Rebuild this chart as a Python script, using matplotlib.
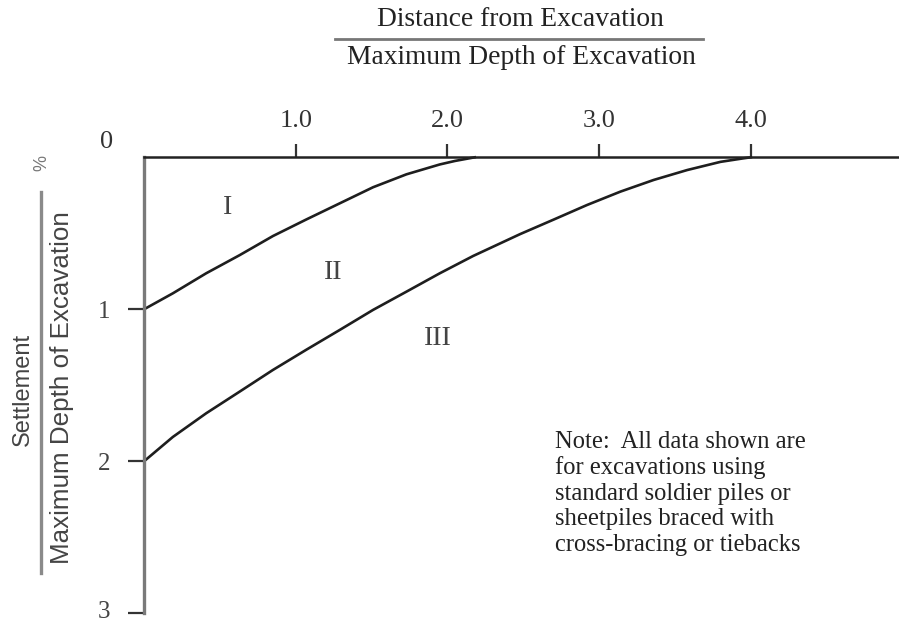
import matplotlib
matplotlib.use("Agg")
import matplotlib.pyplot as plt
from matplotlib.lines import Line2D
from matplotlib.transforms import ScaledTranslation

# ---- data ----
x_ticks = [1.0, 2.0, 3.0, 4.0]
x_tick_labels = ["1.0", "2.0", "3.0", "4.0"]
y_ticks = [1, 2, 3]
y_tick_labels = ["1", "2", "3"]

# boundary between zones I and II
curve1_x = [0.0, 0.19, 0.41, 0.63, 0.85, 1.07, 1.29, 1.51, 1.73, 1.95, 2.05, 2.18]
curve1_y = [1.0, 0.895, 0.763, 0.644, 0.518, 0.409, 0.303, 0.197, 0.112, 0.047, 0.024, 0.0]

# boundary between zones II and III
curve2_x = [0.0, 0.19, 0.41, 0.63, 0.85, 1.07, 1.29, 1.51, 1.73, 1.95, 2.17, 2.48,
            2.70, 2.92, 3.14, 3.36, 3.58, 3.80, 3.95, 4.0]
curve2_y = [2.0, 1.84, 1.684, 1.542, 1.399, 1.266, 1.136, 1.004, 0.884, 0.763, 0.649, 0.505,
            0.41, 0.314, 0.226, 0.149, 0.084, 0.030, 0.007, 0.0]

zone_labels = ["I", "II", "III"]
zone_x = [0.55, 1.25, 1.94]
zone_y = [0.33, 0.76, 1.19]

note_text = ("Note:  All data shown are\n"
             "for excavations using\n"
             "standard soldier piles or\n"
             "sheetpiles braced with\n"
             "cross-bracing or tiebacks")

W, H = 899, 621
SERIF = ["Liberation Serif", "DejaVu Serif"]
SANS = ["Liberation Sans", "DejaVu Sans"]

fig = plt.figure(figsize=(W / 100, H / 100), dpi=100)


def fx(px):
    return px / W


def fy(py):
    return 1 - py / H


ax_left, ax_right = 144, 899
ax_top, ax_bottom = 157.3, 613.3
ax = fig.add_axes([fx(ax_left), fy(ax_bottom), (ax_right - ax_left) / W, (ax_bottom - ax_top) / H])
ax.set_xlim(0, (ax_right - ax_left) / 151.7)
ax.set_ylim(3, 0)

for s in ["right", "bottom"]:
    ax.spines[s].set_visible(False)
ax.spines["top"].set_color("#222222")
ax.spines["top"].set_linewidth(1.8)
ax.spines["left"].set_color("#7a7a7a")
ax.spines["left"].set_linewidth(2.4)

ax.xaxis.tick_top()
ax.set_xticks(x_ticks)
ax.set_xticklabels(x_tick_labels, fontfamily=SERIF, fontsize=19, color="#333333")
ax.tick_params(axis="x", direction="out", length=9.5, width=1.6, color="#333333", pad=9)

ax.set_yticks(y_ticks)
ax.set_yticklabels(y_tick_labels, fontfamily=SERIF, fontsize=18, color="#444444")
ax.tick_params(axis="y", direction="out", length=11.5, width=1.6, color="#333333", pad=13)
last = ax.get_yticklabels()[-1]
last.set_transform(last.get_transform() + ScaledTranslation(0, 3 / 72, fig.dpi_scale_trans))

ax.annotate("0", xy=(0, 0), xytext=(-27, 11), textcoords="offset points",
            ha="center", va="center", fontfamily=SERIF, fontsize=19, color="#333333",
            annotation_clip=False)

ax.plot(curve1_x, curve1_y, color="#1e1e1e", lw=1.9, clip_on=False)
ax.plot(curve2_x, curve2_y, color="#1e1e1e", lw=1.9, clip_on=False)

for lab, x, y in zip(zone_labels, zone_x, zone_y):
    ax.text(x, y, lab, ha="center", va="center", fontfamily=SERIF, fontsize=20, color="#444444")

ax.text(2.71, 1.80, note_text, ha="left", va="top", fontfamily=SERIF, fontsize=17.7,
        color="#222222", linespacing=1.2)

# top label (fraction)
fig.text(fx(520), fy(20), "Distance from Excavation", ha="center", va="center",
         fontfamily=SERIF, fontsize=19.8, color="#222222")
fig.add_artist(Line2D([fx(335), fx(703)], [fy(39), fy(39)], color="#777777", lw=2.0))
fig.text(fx(521), fy(58), "Maximum Depth of Excavation", ha="center", va="center",
         fontfamily=SERIF, fontsize=19.8, color="#222222")

# left label (fraction)
fig.text(fx(23), fy(389), "Settlement", ha="center", va="center", rotation=90,
         fontfamily=SANS, fontsize=17, color="#444444")
fig.add_artist(Line2D([fx(41), fx(41)], [fy(192), fy(573)], color="#8a8a8a", lw=2.4))
fig.text(fx(62), fy(388), "Maximum Depth of Excavation", ha="center", va="center", rotation=90,
         fontfamily=SANS, fontsize=18.7, color="#444444")
fig.text(fx(42), fy(163), "%", ha="center", va="center", rotation=90,
         fontfamily=SANS, fontsize=13, color="#777777")

fig.savefig("out.png", dpi=100)
